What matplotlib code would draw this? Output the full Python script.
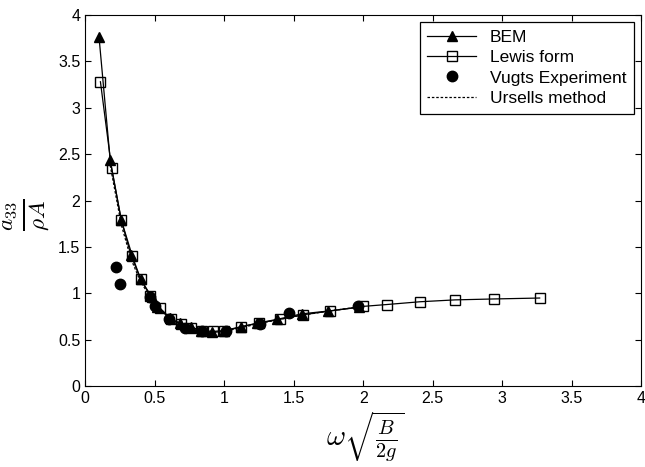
import matplotlib.pyplot as plt
import numpy as np

plt.rcParams['font.family'] = ['Liberation Sans', 'DejaVu Sans']
plt.rcParams['mathtext.fontset'] = 'cm'

# BEM
bem_x = [0.10, 0.18, 0.26, 0.33, 0.40, 0.48, 0.52, 0.61, 0.68, 0.76, 0.83, 0.91, 1.00, 1.12, 1.24, 1.38, 1.56, 1.75, 1.97]
bem_y = [3.76, 2.44, 1.79, 1.41, 1.15, 0.96, 0.85, 0.73, 0.68, 0.64, 0.60, 0.58, 0.59, 0.64, 0.68, 0.72, 0.78, 0.81, 0.85]

# Lewis form
lewis_x = [0.11, 0.19, 0.26, 0.34, 0.40, 0.47, 0.54, 0.62, 0.69, 0.76, 0.84, 0.92, 1.00, 1.12, 1.25, 1.40,
           1.57, 1.76, 2.00, 2.17, 2.41, 2.66, 2.94, 3.27]
lewis_y = [3.28, 2.35, 1.79, 1.40, 1.15, 0.97, 0.84, 0.72, 0.67, 0.63, 0.60, 0.59, 0.60, 0.64, 0.68, 0.72,
           0.77, 0.81, 0.86, 0.88, 0.91, 0.93, 0.94, 0.95]

# Vugts experiment
vugts_x = [0.22, 0.25, 0.47, 0.50, 0.60, 0.72, 0.84, 1.01, 1.26, 1.47, 1.96]
vugts_y = [1.28, 1.10, 0.96, 0.86, 0.72, 0.63, 0.59, 0.60, 0.67, 0.79, 0.86]

# Ursells method
urs_x = [0.18, 0.26, 0.33, 0.40, 0.48, 0.55, 0.62, 0.70, 0.80, 0.90, 1.00, 1.15, 1.30, 1.50, 1.75, 2.00]
urs_y = [2.38, 1.74, 1.37, 1.12, 0.94, 0.82, 0.72, 0.66, 0.61, 0.58, 0.59, 0.64, 0.69, 0.75, 0.81, 0.86]

fig = plt.figure(figsize=(6.45, 4.67), dpi=100)
ax = fig.add_axes([0.132, 0.173, 0.862, 0.795])

ax.plot(urs_x, urs_y, 'k--', lw=0.9, dashes=(2, 1.5), label='Ursells method', zorder=2)
ax.plot(bem_x, bem_y, 'k-^', lw=0.9, ms=7.5, label='BEM', zorder=3)
ax.plot(lewis_x, lewis_y, 'k-s', lw=0.9, ms=7, mfc='none', mew=1.0, label='Lewis form', zorder=4)
ax.plot(vugts_x, vugts_y, 'o', color='k', ms=7.5, ls='none', label='Vugts Experiment', zorder=5)

ax.set_xlim(0, 4)
ax.set_ylim(0, 4)
ax.set_xticks(np.arange(0, 4.01, 0.5))
ax.set_yticks(np.arange(0, 4.01, 0.5))
ax.set_xticklabels(['0', '0.5', '1', '1.5', '2', '2.5', '3', '3.5', '4'])
ax.set_yticklabels(['0', '0.5', '1', '1.5', '2', '2.5', '3', '3.5', '4'])
ax.tick_params(direction='in', length=4, labelsize=11.5, top=True, right=True)

# axis labels placed by hand (mathtext fractions)
fig.text(365 / 645, 1 - 437 / 467, r'$\omega\sqrt{\frac{B}{2g}}$', fontsize=21,
         ha='center', va='center')
fig.text(26 / 645, 1 - 215 / 467, r'$\frac{a_{33}}{\rho A}$', fontsize=24,
         ha='center', va='center', rotation=90)

handles, labels = ax.get_legend_handles_labels()
order = [1, 2, 3, 0]
leg = ax.legend([handles[i] for i in order], [labels[i] for i in order],
                loc='upper right', fontsize=12.5, fancybox=False, edgecolor='k',
                borderaxespad=0.4, handlelength=2.8, labelspacing=0.3, borderpad=0.45,
                framealpha=1)
leg.get_frame().set_linewidth(0.9)

fig.savefig('out.png', dpi=100)
